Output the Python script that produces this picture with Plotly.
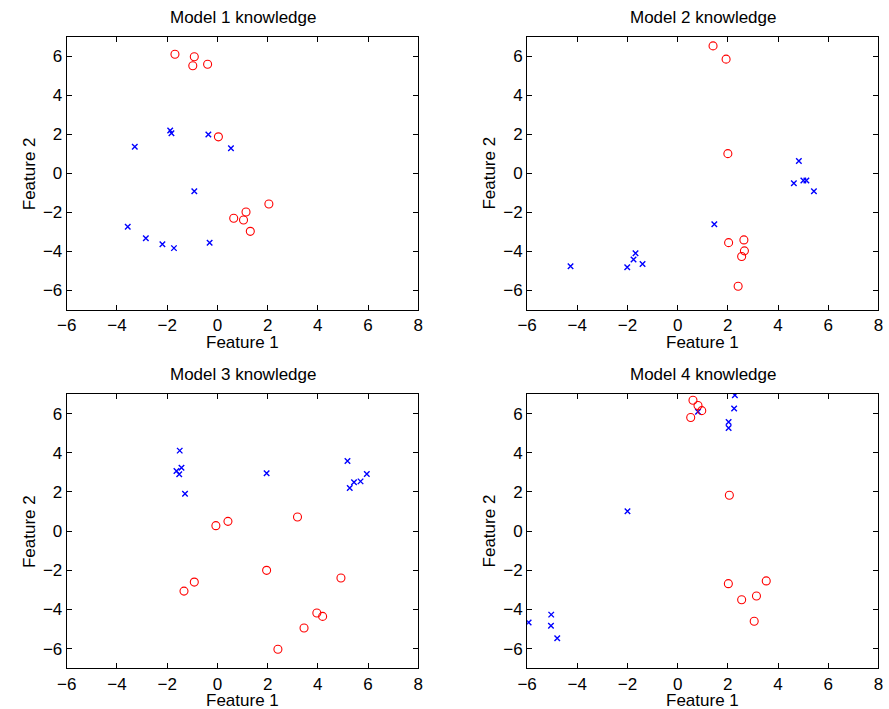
import plotly.graph_objects as go

# ---- data ----
m1_circ_x = [-1.69, -0.92, -0.98, -0.39, 0.04, 2.05, 1.14, 0.65, 1.04, 1.31]
m1_circ_y = [6.10, 5.97, 5.51, 5.59, 1.87, -1.57, -1.98, -2.30, -2.39, -2.97]
m1_x_x = [-1.88, -1.83, -3.29, -0.36, 0.54, -0.92, -3.57, -2.85, -2.19, -1.73, -0.31]
m1_x_y = [2.20, 2.06, 1.36, 1.99, 1.28, -0.92, -2.74, -3.32, -3.63, -3.83, -3.56]

m2_circ_x = [1.41, 1.93, 2.00, 2.03, 2.64, 2.66, 2.55, 2.41]
m2_circ_y = [6.53, 5.85, 1.01, -3.55, -3.41, -3.97, -4.26, -5.78]
m2_x_x = [-4.27, -2.01, -1.76, -1.68, -1.40, 1.46, 4.83, 4.63, 5.01, 5.13, 5.43]
m2_x_y = [-4.76, -4.81, -4.41, -4.09, -4.64, -2.61, 0.63, -0.51, -0.37, -0.37, -0.92]

m3_circ_x = [-0.06, 0.42, 3.19, 1.96, 4.92, -0.92, -1.33, 3.96, 4.19, 3.45, 2.41]
m3_circ_y = [0.28, 0.50, 0.72, -2.00, -2.39, -2.60, -3.06, -4.18, -4.35, -4.94, -6.03]
m3_x_x = [-1.50, -1.43, -1.63, -1.52, -1.29, 1.96, 5.18, 5.27, 5.44, 5.70, 5.95]
m3_x_y = [4.11, 3.24, 3.07, 2.90, 1.91, 2.95, 3.58, 2.20, 2.49, 2.54, 2.92]

m4_circ_x = [0.61, 0.81, 0.96, 0.52, 2.06, 2.02, 3.53, 3.14, 2.55, 3.05]
m4_circ_y = [6.68, 6.41, 6.15, 5.80, 1.83, -2.68, -2.54, -3.31, -3.50, -4.60]
m4_x_x = [2.28, 2.25, 0.81, 2.03, 2.03, -2.00, -5.94, -5.04, -5.05, -4.80]
m4_x_y = [6.94, 6.26, 6.09, 5.57, 5.27, 1.01, -4.66, -4.26, -4.83, -5.47]

titles = ["Model 1 knowledge", "Model 2 knowledge", "Model 3 knowledge", "Model 4 knowledge"]
x_ticks = [-6, -4, -2, 0, 2, 4, 6, 8]
y_ticks = [-6, -4, -2, 0, 2, 4, 6]
x_range = [-6, 8]
y_range = [-7, 7]

models = [
    (m1_circ_x, m1_circ_y, m1_x_x, m1_x_y),
    (m2_circ_x, m2_circ_y, m2_x_x, m2_x_y),
    (m3_circ_x, m3_circ_y, m3_x_x, m3_x_y),
    (m4_circ_x, m4_circ_y, m4_x_x, m4_x_y),
]

W, H = 889, 709
# axis boxes in pixels (left, right, top, bottom)
boxes = [
    (57.7, 415.3, 36.7, 310.0),
    (526.0, 883.3, 36.7, 310.0),
    (57.7, 415.3, 394.0, 668.3),
    (526.0, 883.3, 394.0, 668.3),
]

FONT = "Liberation Sans, Arial, Helvetica, sans-serif"
FS = 17

fig = go.Figure()
layout = dict(
    width=W, height=H,
    margin=dict(l=0, r=0, t=0, b=0),
    paper_bgcolor="white", plot_bgcolor="white",
    showlegend=False,
    font=dict(family=FONT, size=FS, color="black"),
    annotations=[],
)

for i, (cx, cy, xx, xy) in enumerate(models):
    n = "" if i == 0 else str(i + 1)
    xa, ya = "x" + n, "y" + n
    fig.add_trace(go.Scatter(
        x=xx, y=xy, mode="markers", xaxis=xa, yaxis=ya,
        marker=dict(symbol="x-thin", size=5.5, color="#0000ff",
                    line=dict(color="#0000ff", width=1.4)),
    ))
    fig.add_trace(go.Scatter(
        x=cx, y=cy, mode="markers", xaxis=xa, yaxis=ya,
        marker=dict(symbol="circle-open", size=8, color="#ff0000",
                    line=dict(color="#ff0000", width=1.1)),
    ))
    l, r, t, b = boxes[i]
    common = dict(
        showgrid=False, zeroline=False, showline=True, linecolor="black",
        linewidth=1, mirror="allticks", ticks="inside", ticklen=5,
        tickcolor="black", tickwidth=1,
        tickfont=dict(family=FONT, size=FS, color="black"),
    )
    layout["xaxis" + n] = dict(
        domain=[l / W, r / W], range=x_range, tickmode="array",
        tickvals=x_ticks, anchor=ya, **common)
    layout["yaxis" + n] = dict(
        domain=[1 - b / H, 1 - t / H], range=y_range, tickmode="array",
        tickvals=y_ticks, anchor=xa, **common)
    cxp = (l + r) / 2
    layout["annotations"].append(dict(
        text=titles[i], x=cxp / W, y=1 - (t - 19.5) / H, xref="paper", yref="paper",
        xanchor="center", yanchor="middle", showarrow=False,
        font=dict(family=FONT, size=FS, color="black")))
    layout["annotations"].append(dict(
        text="Feature 1", x=cxp / W, y=1 - (b + 32) / H, xref="paper", yref="paper",
        xanchor="center", yanchor="middle", showarrow=False,
        font=dict(family=FONT, size=FS, color="black")))
    layout["annotations"].append(dict(
        text="Feature 2", x=(l - 38.5) / W, y=1 - ((t + b) / 2) / H,
        xref="paper", yref="paper", textangle=-90,
        xanchor="center", yanchor="middle", showarrow=False,
        font=dict(family=FONT, size=FS, color="black")))

fig.update_layout(**layout)
fig.write_html("out.html")
